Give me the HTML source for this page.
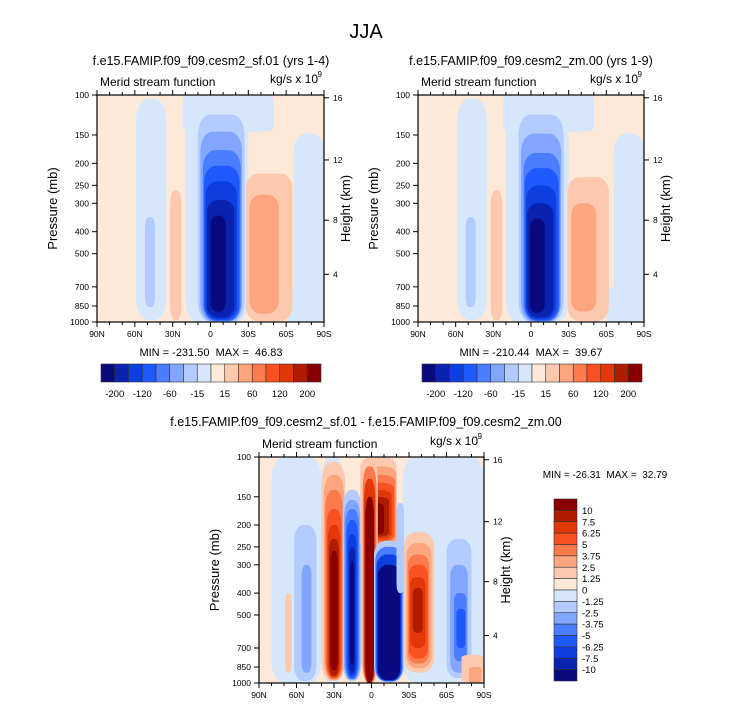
<!DOCTYPE html>
<html><head><meta charset="utf-8"><style>
body{margin:0;background:#fff}
svg{display:block;font-family:"Liberation Sans",sans-serif}
text{white-space:pre}
</style></head><body>
<svg id="c" width="733" height="708" viewBox="0 0 733 708"></svg>
<script>
const palette=["#0a0a80","#0a22b0","#0c3ee0","#1e58ff","#4a7dff","#82a6ff","#b3cbff","#d6e7fc","#fee8d8","#fdc9ae","#fca57f","#fc7a4c","#fb5020","#e03806","#b01c00","#880000"];
const latTicks=[90,60,30,0,-30,-60,-90];
const latLabels=["90N","60N","30N","0","30S","60S","90S"];
const pTicks=[1000,850,700,500,400,300,250,200,150,100];
const zTicks=[4,8,12,16];
const barLabelsTop=["-200","-120","-60","-15","15","60","120","200"];
const barLabelsSide=["10","7.5","6.25","5","3.75","2.5","1.25","0","-1.25","-2.5","-3.75","-5","-6.25","-7.5","-10"];
// blobs: [lat0, lat1, pTop, pBottom, colorIndex]
const field1=[[90,-90,100,1000,8],[22,-50,100,145,7],[20,-30,100,1000,7],[59,35,104,980,7],[52,44,345,860,6],[-66,-90,148,800,7],[-60,-90,700,1000,7],
[-28,-65,222,990,9],[-31,-54,275,920,10],[32,23,263,983,9],
[10,-27,122,1000,6],[8,-25,145,995,5],[6,-24,175,990,4],[5,-23,205,985,3],[4,-21,240,975,2],[3,-19,290,955,1],[0,-12,340,900,0]];
const field2=[[90,-90,100,1000,8],[22,-50,100,145,7],[20,-30,100,1000,7],[59,35,104,980,7],[52,44,345,860,6],[-66,-90,148,800,7],[-60,-90,700,1000,7],
[-29,-62,230,990,9],[-32,-52,300,900,10],[32,23,263,983,9],
[10,-26,122,1000,6],[8,-24,148,995,5],[6,-23,180,990,4],[5,-22,210,985,3],[4,-20,250,975,2],[3,-18,300,955,1],[1,-11,350,910,0]];
const field3=[[90,-90,100,1000,8],[80,40,100,1000,7],[-25,-90,100,1000,7],[40,22,100,1000,7],
[62,44,200,980,6],[56,48,300,900,5],[69,64,400,900,9],
[40,21,105,978,9],[38,22,120,970,10],[37,23,140,960,11],[36,24,170,950,12],[35,25,200,940,13],[34,26,230,930,14],[33,27,260,880,15],
[23,8,140,980,6],[22,9,155,970,5],[21,10,170,960,4],[20,11,190,950,3],[19,12,220,930,2],[18,13,250,900,1],[17,14,290,830,0],
[9,-20,100,260,9],[8,-20,110,250,10],[7,-19,120,240,11],[6,-18,130,235,12],[6,-16,140,230,13],[5,-14,150,225,14],[5,-10,160,220,15],
[8,-5,100,1000,9],[7,-4,110,1000,11],[6,-3,125,1000,13],[5,-2,150,995,15],
[-2,-26,235,990,6],[-3,-25,250,985,4],[-4,-24,270,980,2],[-5,-23,300,970,0],
[-20,-26,160,400,6],
[-26,-50,215,900,9],[-28,-48,240,860,10],[-29,-46,270,820,11],[-30,-45,300,780,12],[-31,-43,340,700,13],[-33,-41,380,600,14],
[-60,-80,230,950,6],[-63,-77,300,900,5],[-66,-76,400,800,4],[-68,-75,470,700,3],
[-72,-90,750,1000,9],[-78,-88,850,1000,10]];
const svg=document.getElementById('c');
const NS='http://www.w3.org/2000/svg';
function mk(t,a,p){const e=document.createElementNS(NS,t);for(const k in a)e.setAttribute(k,a[k]);(p||svg).appendChild(e);return e;}
function txt(x,y,s,size,anchor,p,rot){const e=mk('text',{x:x,y:y,'font-size':size,'text-anchor':anchor||'middle',fill:'#000'},p);if(rot)e.setAttribute('transform','rotate(-90 '+x+' '+y+')');e.textContent=s;return e;}
function xs(P,lat){return P.L+(90-lat)/180*(P.R-P.L);}
function ys(P,p){return P.T+Math.log(p/100)/Math.log(10)*(P.B-P.T);}
function pOfZ(z){return z<=11?1013.25*Math.pow(1-z/44.33,5.255):226.3*Math.exp(-(z-11)/6.34);}
function panel(P,field,name){
  const g=mk('g',{});
  
  
  const cp=mk('clipPath',{id:'cp'+name},g);mk('rect',{x:P.L,y:P.T,width:P.R-P.L,height:P.B-P.T},cp);
  const fg=mk('g',{'clip-path':'url(#cp'+name+')'},g);
  field.forEach((b,i)=>{const x0=xs(P,b[0]),x1=xs(P,b[1]),y0=ys(P,b[2]),y1=ys(P,b[3]);const w=x1-x0,h=y1-y0;
    const full=(i===0);
    const r=mk('rect',{x:x0,y:y0,width:w,height:h,rx:full?0:Math.min(w*0.4,12),ry:full?0:Math.min(h*0.1,22),fill:palette[b[4]]},fg);
    
    });
  mk('rect',{x:P.L,y:P.T,width:P.R-P.L,height:P.B-P.T,fill:'none',stroke:'#000','stroke-width':1.2},g);
  for(let l=90;l>=-90;l-=10){const x=xs(P,l);const big=l%30===0;
    mk('line',{x1:x,x2:x,y1:P.B,y2:P.B+(big?5:3),stroke:'#000'},g);
    mk('line',{x1:x,x2:x,y1:P.T,y2:P.T-(big?5:3),stroke:'#000'},g);}
  latTicks.forEach((l,i)=>{txt(xs(P,l),P.B+15,latLabels[i],8.5,'middle',g);});
  pTicks.forEach(p=>{const y=ys(P,p);mk('line',{x1:P.L-5,x2:P.L,y1:y,y2:y,stroke:'#000'},g);txt(P.L-8,y+3,String(p),8.5,'end',g);});
  zTicks.forEach(z=>{const y=ys(P,pOfZ(z));mk('line',{x1:P.R,x2:P.R+5,y1:y,y2:y,stroke:'#000'},g);txt(P.R+9,y+3,String(z),8.5,'start',g);});
  txt(P.L+3,P.T-9,'Merid stream function',12,'start',g);
  txt(P.R-6,P.T-12,'kg/s x 10',12,'end',g);
  txt(P.R-2,P.T-18,'9',8,'end',g);
  txt(P.L-40,(P.T+P.B)/2,'Pressure (mb)',13,'middle',g,true);
  txt(P.R+26,(P.T+P.B)/2,'Height (km)',13,'middle',g,true);
  return g;
}
txt(366,38,'JJA',20,'middle');
const P1={L:97,R:324,T:95,B:322},P2={L:418,R:644,T:95,B:322},P3={L:259,R:484,T:457,B:683};
panel(P1,field1,'panel-sf01');panel(P2,field2,'panel-zm00');panel(P3,field3,'panel-diff');
txt(211,65,'f.e15.FAMIP.f09_f09.cesm2_sf.01 (yrs 1-4)',12.5);
txt(531,65,'f.e15.FAMIP.f09_f09.cesm2_zm.00 (yrs 1-9)',12.5);
txt(211,356,'MIN = -231.50  MAX =  46.83',11);
txt(531,356,'MIN = -210.44  MAX =  39.67',11);
txt(366,426,'f.e15.FAMIP.f09_f09.cesm2_sf.01 - f.e15.FAMIP.f09_f09.cesm2_zm.00',12.5);
txt(605,478,'MIN = -26.31  MAX =  32.79',10);
function hbar(x0,name){const g=mk('g',{});
  const w=220/16;palette.forEach((c,i)=>mk('rect',{x:x0+i*w,y:364,width:w,height:18,fill:c,stroke:'#333','stroke-width':0.6},g));
  barLabelsTop.forEach((s,i)=>txt(x0+w*(2*i+1),397,s,9.5,'middle',g));}
hbar(101,'colorbar-top-left');hbar(422,'colorbar-top-right');
(function(){const g=mk('g',{});
  const h=182/16;for(let i=0;i<16;i++)mk('rect',{x:554,y:499+i*h,width:23,height:h,fill:palette[15-i],stroke:'#333','stroke-width':0.6},g);
  barLabelsSide.forEach((s,i)=>txt(582,499+h*(i+1)+3.5,s,9.5,'start',g));})();
</script>
</body></html>
